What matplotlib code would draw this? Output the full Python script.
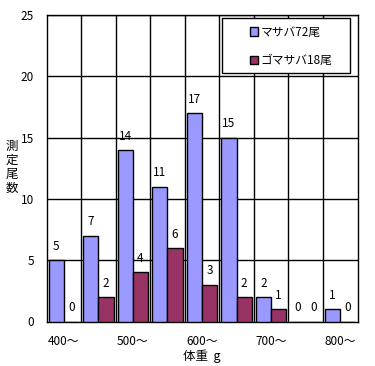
import matplotlib
matplotlib.use("Agg")
import matplotlib.pyplot as plt
from matplotlib.patches import Rectangle
import numpy as np

plt.rcParams['font.family'] = ['Noto Sans CJK JP', 'DejaVu Sans']

categories = ["400～", "450～", "500～", "550～", "600～", "650～", "700～", "750～", "800～"]
masaba = [5, 7, 14, 11, 17, 15, 2, 0, 1]
gomasaba = [0, 2, 4, 6, 3, 2, 1, 0, 0]
series_names = ["マサバ72尾", "ゴマサバ18尾"]
colors = ["#9999FF", "#993366"]

fig = plt.figure(figsize=(3.75, 3.66), dpi=100)
ax = fig.add_axes([46.5/375, 1-321.5/366, 311/375, 306.5/366])

x = np.arange(len(categories))
w = 0.44
b1 = ax.bar(x - w/2, masaba, w, color=colors[0], edgecolor='black', linewidth=1, label=series_names[0], zorder=3)
b2 = ax.bar(x + w/2, gomasaba, w, color=colors[1], edgecolor='black', linewidth=1, label=series_names[1], zorder=3)

for bars, vals in ((b1, masaba), (b2, gomasaba)):
    for r, v in zip(bars, vals):
        ax.text(r.get_x() + r.get_width()/2, v + 0.6, str(v), ha='center', va='bottom', fontsize=8.5)

ax.set_xlim(-0.5, len(categories) - 0.5)
ax.set_ylim(0, 25)
ax.set_yticks([0, 5, 10, 15, 20, 25])
ax.set_xticks(x[::2])
ax.set_xticklabels(categories[::2], fontsize=8.5)
ax.tick_params(axis='both', length=0, labelsize=8.5)
ax.tick_params(axis='x', pad=10)
ax.tick_params(axis='y', pad=9)
for yv in [5, 10, 15, 20, 25]:
    ax.axhline(yv, color='black', linewidth=1, zorder=1)
for xv in np.arange(0.5, len(categories) - 0.5, 1):
    ax.axvline(xv, color='black', linewidth=1, zorder=1)
for s in ax.spines.values():
    s.set_linewidth(1)
    s.set_color('black')

ax.set_xlabel("体重  g", fontsize=9, labelpad=1)

fig.text(12/375, 1-167/366, "測\n定\n尾\n数", ha='center', va='center', fontsize=9, linespacing=1.1)

# legend frame
frame = Rectangle((222/375, 1-73/366), 128/375, 55/366, transform=fig.transFigure,
                  facecolor='white', edgecolor='black', linewidth=1, zorder=4)
fig.patches.append(frame)

leg = fig.legend(handles=[b1, b2], labels=series_names, loc='upper left',
                 bbox_to_anchor=(246/375, 1-22/366), bbox_transform=fig.transFigure,
                 fontsize=8.5, frameon=False,
                 handlelength=0.7, handleheight=0.7, handletextpad=0.25,
                 labelspacing=1.3, borderpad=0.3, borderaxespad=0)
leg.set_zorder(6)

fig.savefig("out.png", dpi=100)
